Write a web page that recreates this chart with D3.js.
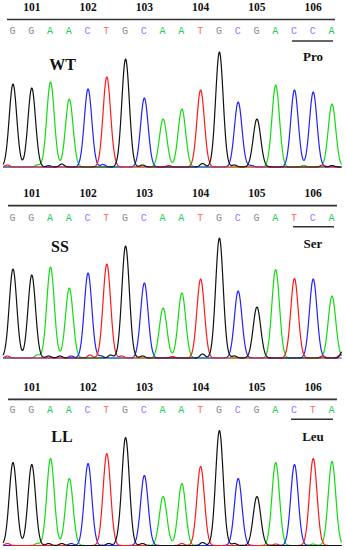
<!DOCTYPE html>
<html><head><meta charset="utf-8">
<script src="https://cdn.jsdelivr.net/npm/d3@7"></script>
<style>html,body{margin:0;padding:0;background:#fff;}svg{display:block;}</style>
</head><body>
<svg id="chart" width="346" height="550"></svg>
<script>
// ---- data ----
const codonLabels = ["101","102","103","104","105","106"];
const genotypes = ["WT","SS","LL"];
const aminoAcids = ["Pro","Ser","Leu"];
const seqWT = ["G","G","A","A","C","T","G","C","A","A","T","G","C","G","A","C","C","A"];
const seqSS = ["G","G","A","A","C","T","G","C","A","A","T","G","C","G","A","T","C","A"];
const seqLL = ["G","G","A","A","C","T","G","C","A","A","T","G","C","G","A","C","T","A"];
const peaksWT = [83,79,85,68,78,90,108,69,48,58,77,115,65,48,82,77,75,63];
const peaksSS = [89,83,91,70,85,94,112,75,50,65,79,120,67,51,88,78,79,62];
const peaksLL = [83,81,87,67,82,92,108,70,49,62,79,115,67,49,83,81,87,84];
// minor baseline bumps: [position index, base, height]
const minorWT = [[-0.3,"T",2],[1.3,"A",2],[1.9,"C",1.5],[2.6,"G",3],[4.8,"C",2.5],[5.4,"T",1.5],[6.9,"G",2],[8.3,"T",1.5],[10.1,"G",3.5],[11.8,"G",2],[12.7,"C",1.5],[15.5,"A",1.5],[16.5,"T",2],[17.0,"G",1.5]];
const minorSS = [[-0.3,"T",2],[1.3,"A",3],[1.9,"G",2],[2.5,"G",2],[3.1,"C",2],[4.1,"T",3],[4.7,"C",2],[5.2,"G",3],[5.8,"T",2],[6.9,"G",2],[8.5,"T",1.5],[10.1,"G",4],[11.8,"G",2],[13.8,"A",1.5],[15.0,"T",1.5],[16.5,"T",2],[17.45,"T",3],[17.6,"G",8]];
const minorLL = [[-0.3,"T",2],[1.3,"A",2],[1.9,"G",2],[2.6,"G",2],[3.1,"C",2],[5.1,"G",2],[5.6,"G",2.5],[6.9,"G",2],[9.0,"T",2],[10.1,"G",3],[11.8,"G",2],[14.0,"T",1.5],[16.0,"A",1.5]];

const panelData = [
  {seq: seqWT, peaks: peaksWT, minor: minorWT, geno: genotypes[0], aa: aminoAcids[0]},
  {seq: seqSS, peaks: peaksSS, minor: minorSS, geno: genotypes[1], aa: aminoAcids[1]},
  {seq: seqLL, peaks: peaksLL, minor: minorLL, geno: genotypes[2], aa: aminoAcids[2]}
];

// ---- layout ----
const layout = [
  {num:11, line:19.5, base:34, under:41, lineX:[7,335], underX:[292,333], label:70, labelX:62.5, aaY:61, baseline:167},
  {num:197, line:205.7, base:221, under:226.7, lineX:[8,337], underX:[293,334], label:252, labelX:60, aaY:248, baseline:358},
  {num:391, line:399.3, base:413, under:419.3, lineX:[8,337], underX:[291,333], label:442, labelX:62, aaY:441, baseline:545.5}
];

const baseColor = {G:"#111111", A:"#11dd11", C:"#2222ff", T:"#ff1a1a"};
const letterColor = {G:"#8a8a8a", A:"#22cc55", C:"#8080ff", T:"#ff6a6a"};
const channels = ["A","C","T","G"];

const svg = d3.select("#chart");
const x = d3.scaleLinear().domain([0,17]).range([13,332]);
const sigma = 0.2;

panelData.forEach((p, k) => {
  const L = layout[k];
  const g = svg.append("g");
  const y = d3.scaleLinear().domain([0,120]).range([L.baseline, L.baseline-120]);

  // codon numbers
  g.selectAll("text.num").data(codonLabels).join("text")
    .attr("x", (d,i) => x(i*3+1)).attr("y", L.num)
    .attr("text-anchor","middle")
    .style("font-family","'Liberation Serif',serif").style("font-weight","bold").style("font-size","11.5px")
    .attr("fill","#111").text(d => d);

  g.append("line").attr("x1",L.lineX[0]).attr("x2",L.lineX[1]).attr("y1",L.line).attr("y2",L.line)
    .attr("stroke","#333").attr("stroke-width",1.7);

  // base calls
  g.selectAll("text.base").data(p.seq).join("text")
    .attr("x", (d,i) => x(i)-0.5).attr("y", L.base)
    .attr("text-anchor","middle")
    .style("font-family","'Liberation Mono',monospace").style("font-size","10px")
    .attr("fill", d => letterColor[d]).text(d => d);

  g.append("line").attr("x1",L.underX[0]).attr("x2",L.underX[1]).attr("y1",L.under).attr("y2",L.under)
    .attr("stroke","#333").attr("stroke-width",1.5);

  g.append("text").attr("x", L.labelX).attr("y", L.label).attr("text-anchor","middle")
    .style("font-family","'Liberation Serif',serif").style("font-weight","bold").style("font-size","16px")
    .attr("fill","#111").text(p.geno);

  g.append("text").attr("x", 313).attr("y", L.aaY).attr("text-anchor","middle")
    .style("font-family","'Liberation Serif',serif").style("font-weight","bold").style("font-size","13px")
    .attr("fill","#111").text(p.aa);

  // traces
  const samples = d3.range(-0.53, 17.52, 0.02);
  channels.forEach(ch => {
    const pk = p.seq.map((b,i) => ({i, b, h: p.peaks[i]})).filter(d => d.b === ch);
    const mn = p.minor.filter(m => m[1] === ch);
    const pts = samples.map(t => {
      let v = 0;
      pk.forEach(d => { v += d.h * Math.exp(-((t-d.i)**2)/(2*sigma*sigma)); });
      mn.forEach(m => { v += m[2] * Math.exp(-((t-m[0])**2)/(2*0.13*0.13)); });
      return [t, v];
    });
    g.append("path").datum(pts)
      .attr("d", d3.line().x(d => x(d[0])).y(d => y(d[1])))
      .attr("fill","none").attr("stroke", baseColor[ch]).attr("stroke-width",1.2)
      .attr("stroke-linejoin","round");
  });
});
</script>
</body></html>
